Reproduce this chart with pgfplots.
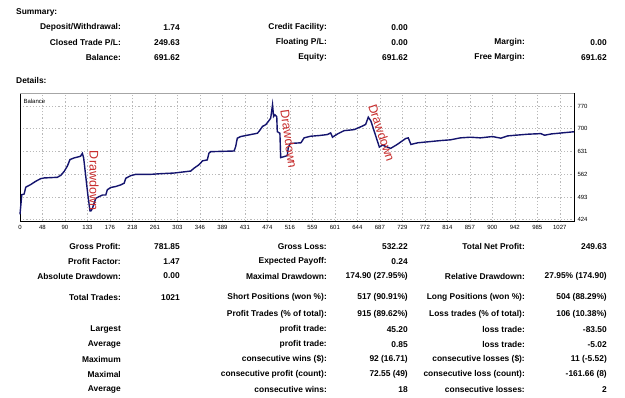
\documentclass[border=0pt]{standalone}
\usepackage{pgfplots}
\pgfplotsset{compat=1.18}
\usepackage{fontspec}
\setmainfont{Liberation Sans}
\newfontfamily\ddfont{Liberation Sans}

\definecolor{balblue}{RGB}{20,20,110}
\definecolor{ddred}{RGB}{200,45,45}

% right-aligned report cell: x, y (from top), text
\newcommand{\cell}[3]{\node[anchor=east,inner sep=0pt,font=\fontsize{8.4bp}{10bp}\selectfont\bfseries] at (#1bp,-#2bp) {#3};}
\newcommand{\sectitle}[2]{\node[anchor=west,inner sep=0pt,font=\fontsize{8.4bp}{10bp}\selectfont\bfseries] at (16bp,-#1bp) {#2};}

\begin{document}
\begin{tikzpicture}
\fill[white] (0,0) rectangle (625bp,-398bp);
\path[use as bounding box] (0,0) rectangle (625bp,-398bp);

% ---- Summary ----
\sectitle{12.7}{Summary:}
\cell{121}{27.3}{Deposit/Withdrawal:} \cell{180}{27.3}{1.74}
\cell{327}{27.3}{Credit Facility:}    \cell{408}{27.3}{0.00}
\cell{121}{42.3}{Closed Trade P/L:}   \cell{180}{42.3}{249.63}
\cell{327}{42.3}{Floating P/L:}       \cell{408}{42.3}{0.00}
\cell{525}{42.3}{Margin:}             \cell{607}{42.3}{0.00}
\cell{121}{57.3}{Balance:}            \cell{180}{57.3}{691.62}
\cell{327}{57.3}{Equity:}             \cell{408}{57.3}{691.62}
\cell{525}{57.3}{Free Margin:}        \cell{607}{57.3}{691.62}
\sectitle{80}{Details:}

% ---- Balance chart ----
\begin{axis}[
  at={(20bp,-221bp)}, anchor=south west,
  scale only axis, width=554bp, height=127.5bp,
  xmin=0, xmax=1053, ymin=420, ymax=808,
  axis line style={black,line width=0.6bp},
  major tick length=0pt,
  xtick={0,42.75,85.5,128.25,171,213.75,256.5,299.25,342,384.75,427.5,470.25,513,555.75,598.5,641.25,684,726.75,769.5,812.25,855,897.75,940.5,983.25,1026},
  xticklabels={0,48,90,133,176,218,261,303,346,389,431,474,516,559,601,644,687,729,772,814,857,900,942,985,1027},
  ytick={424,493.2,562.4,631.6,700.8,770},
  yticklabels={424,493,562,631,700,770},
  yticklabel pos=right,
  tick label style={font=\fontsize{6bp}{7bp}\selectfont},
  xticklabel style={yshift=-1bp},
  grid=major,
  grid style={gray!55,line width=0.5bp,dash pattern=on 1.2bp off 2bp},
  clip=false,
]
\addplot[balblue,line width=1.4bp] coordinates {
(0,440) (3.4,500) (7.8,502) (11,523) (20.5,531) (30,541) (39.5,549) (45.8,551)
(71,553) (77.5,559) (84,571) (90,587) (95,607) (103,612) (115,617) (118.5,625.8)
(121,612) (129,499) (133,451) (135,450.9) (137.7,459) (144,489) (150,494)
(156.7,499) (163,499) (166,515) (172.5,522) (182,525) (191.5,530) (198,535)
(201,550) (210.5,558) (220,562) (248.5,562) (267.5,564) (293,566) (324.5,572)
(331,581) (340,591) (347,603) (356,606) (359,626) (362.5,631) (407,633)
(410,647) (413,672) (419.5,677) (451,687) (454,692) (461,708) (467,713)
(473,725) (476.5,733) (480,774) (482,738) (484.5,743) (488,738) (489,692)
(494,687) (495.5,613) (502,616) (508,619) (510,645) (514,656) (534,658)
(540,673) (552.5,678) (568,680) (584,683) (590.5,688) (594,675) (603.5,685)
(616,695) (635,698) (651,709) (657,714) (662,736) (667,724) (683,645)
(689,651) (704.5,641) (717,653) (733,671) (738,673) (743,653) (756,658)
(801,665) (818,667) (837,673) (856,675) (875,673) (898,677) (914,672)
(927,679) (964,684) (990,686) (997,681) (1010,685) (1053,691.6)
};
\draw[gray!70,line width=1.6bp] (rel axis cs:0,1) -- (rel axis cs:1,1);
\node[anchor=north west,inner sep=0pt,font=\fontsize{6bp}{7bp}\selectfont] at (rel axis cs:0.006,0.96) {Balance};
\end{axis}

% Drawdown notes on the chart
\node[ddred,rotate=-90,inner sep=0pt,font=\ddfont\fontsize{12.5bp}{14bp}\selectfont] at (94bp,-180.5bp) {Drawdown};
\node[ddred,rotate=-82,inner sep=0pt,font=\ddfont\fontsize{12.5bp}{14bp}\selectfont] at (289bp,-139bp) {Drawdown};
\node[ddred,rotate=-71.5,inner sep=0pt,font=\ddfont\fontsize{12.5bp}{14bp}\selectfont] at (381.7bp,-133bp) {Drawdown};

% ---- Details ----
\cell{121}{246.5}{Gross Profit:}      \cell{180}{246.5}{781.85}
\cell{327}{246.5}{Gross Loss:}        \cell{408}{246.5}{532.22}
\cell{525}{246.5}{Total Net Profit:}  \cell{607}{246.5}{249.63}
\cell{121}{261.5}{Profit Factor:}     \cell{180}{261.5}{1.47}
\cell{327}{261.5}{Expected Payoff:}   \cell{408}{261.5}{0.24}
\cell{121}{276}{Absolute Drawdown:}   \cell{180}{276}{0.00}
\cell{327}{276}{Maximal Drawdown:}    \cell{408}{276}{174.90 (27.95\%)}
\cell{525}{276}{Relative Drawdown:}   \cell{607}{276}{27.95\% (174.90)}
\cell{121}{297.5}{Total Trades:}      \cell{180}{297.5}{1021}
\cell{327}{297.5}{Short Positions (won \%):} \cell{408}{297.5}{517 (90.91\%)}
\cell{525}{297.5}{Long Positions (won \%):}  \cell{607}{297.5}{504 (88.29\%)}
\cell{327}{314}{Profit Trades (\% of total):} \cell{408}{314}{915 (89.62\%)}
\cell{525}{314}{Loss trades (\% of total):}   \cell{607}{314}{106 (10.38\%)}
\cell{121}{329.3}{Largest}
\cell{327}{329.3}{profit trade:}      \cell{408}{329.3}{45.20}
\cell{525}{329.3}{loss trade:}        \cell{607}{329.3}{-83.50}
\cell{121}{344.3}{Average}
\cell{327}{344.3}{profit trade:}      \cell{408}{344.3}{0.85}
\cell{525}{344.3}{loss trade:}        \cell{607}{344.3}{-5.02}
\cell{121}{359.3}{Maximum}
\cell{327}{359.3}{consecutive wins (\$):}     \cell{408}{359.3}{92 (16.71)}
\cell{525}{359.3}{consecutive losses (\$):}   \cell{607}{359.3}{11 (-5.52)}
\cell{121}{374.3}{Maximal}
\cell{327}{374.3}{consecutive profit (count):} \cell{408}{374.3}{72.55 (49)}
\cell{525}{374.3}{consecutive loss (count):}   \cell{607}{374.3}{-161.66 (8)}
\cell{121}{389.3}{Average}
\cell{327}{389.3}{consecutive wins:}  \cell{408}{389.3}{18}
\cell{525}{389.3}{consecutive losses:} \cell{607}{389.3}{2}
\end{tikzpicture}
\end{document}
